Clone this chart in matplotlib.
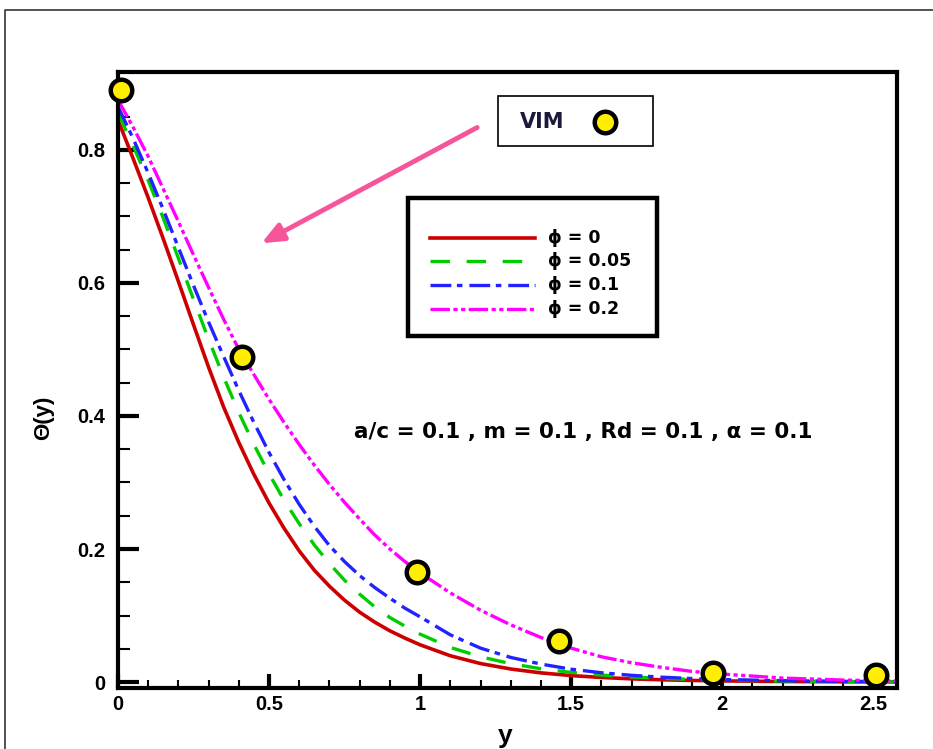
import numpy as np
import matplotlib
matplotlib.use('Agg')
import matplotlib.pyplot as plt
from matplotlib.lines import Line2D
from matplotlib.patches import Rectangle
from matplotlib.ticker import MultipleLocator

plt.rcParams['font.family'] = ['Liberation Sans', 'DejaVu Sans']
plt.rcParams['font.weight'] = 'bold'
plt.rcParams['lines.scale_dashes'] = False

# temperature profiles theta(y) for each volume fraction phi
y = [0.0, 0.05, 0.1, 0.15, 0.2, 0.25, 0.3, 0.35, 0.4, 0.45, 0.5, 0.55, 0.6, 0.65,
     0.7, 0.75, 0.8, 0.85, 0.9, 0.95, 1.0, 1.1, 1.2, 1.3, 1.4, 1.5, 1.6, 1.7,
     1.8, 1.9, 2.0, 2.2, 2.4, 2.58]
theta_phi0 = [0.845, 0.787, 0.728, 0.666, 0.602, 0.537, 0.473, 0.413, 0.360, 0.312,
              0.269, 0.231, 0.197, 0.168, 0.144, 0.123, 0.105, 0.090, 0.077, 0.066,
              0.056, 0.0395, 0.0278, 0.0196, 0.0138, 0.0097, 0.0069, 0.0048,
              0.0034, 0.0024, 0.0017, 0.0008, 0.0004, 0.0002]
theta_phi005 = [0.855, 0.806, 0.754, 0.697, 0.637, 0.575, 0.515, 0.458, 0.405, 0.357,
                0.313, 0.273, 0.238, 0.206, 0.178, 0.153, 0.132, 0.113, 0.097, 0.084,
                0.072, 0.052, 0.038, 0.0276, 0.020, 0.0145, 0.0105, 0.0077,
                0.0056, 0.004, 0.003, 0.0015, 0.0008, 0.0004]
theta_phi01 = [0.865, 0.817, 0.765, 0.710, 0.653, 0.596, 0.541, 0.489, 0.438, 0.390,
               0.345, 0.304, 0.267, 0.234, 0.205, 0.181, 0.160, 0.142, 0.126, 0.111,
               0.098, 0.071, 0.051, 0.037, 0.027, 0.0193, 0.014, 0.0101,
               0.0073, 0.0053, 0.0038, 0.002, 0.001, 0.0006]
theta_phi02 = [0.875, 0.834, 0.790, 0.741, 0.692, 0.642, 0.593, 0.545, 0.500, 0.462,
               0.425, 0.390, 0.357, 0.326, 0.297, 0.270, 0.245, 0.221, 0.200, 0.181,
               0.164, 0.134, 0.108, 0.086, 0.067, 0.051, 0.038, 0.029,
               0.022, 0.016, 0.012, 0.006, 0.003, 0.0015]

# VIM solution points
y_vim = [0.01, 0.41, 0.99, 1.46, 1.97, 2.51]
theta_vim = [0.89, 0.489, 0.165, 0.062, 0.0135, 0.0105]

labels = ['ϕ = 0', 'ϕ = 0.05', 'ϕ = 0.1', 'ϕ = 0.2']
colors = ['#cc0000', '#00cc00', '#2222ff', '#ff00ff']
styles = ['-', (0, (14, 12)), (0, (15, 4, 4, 5)), (0, (14, 2.5, 3, 2.5, 3, 2.5))]
widths = [2.6, 2.4, 2.4, 2.4]
curves = [theta_phi0, theta_phi005, theta_phi01, theta_phi02]

fig = plt.figure(figsize=(9.33, 7.49), dpi=100)
ax = fig.add_axes([0.1265, 0.0814, 0.835, 0.8224])

for th, c, ls, lw in zip(curves, colors, styles, widths):
    ax.plot(y, th, color=c, lw=lw, linestyle=ls)
ax.plot(y_vim, theta_vim, 'o', ms=15.5, mfc='#ffee00', mec='black', mew=3.2,
        clip_on=False, zorder=5)

ax.set_xlim(0, 2.579)
ax.set_ylim(-0.009, 0.917)
ax.xaxis.set_minor_locator(MultipleLocator(0.1))
ax.yaxis.set_minor_locator(MultipleLocator(0.05))
ax.set_xticks([0, 0.5, 1, 1.5, 2, 2.5])
ax.set_xticklabels(['0', '0.5', '1', '1.5', '2', '2.5'])
ax.set_yticks([0, 0.2, 0.4, 0.6, 0.8])
ax.set_yticklabels(['0', '0.2', '0.4', '0.6', '0.8'])

ax.tick_params(axis='both', which='both', direction='in', top=False, right=False,
               labelsize=14.5)
ax.tick_params(axis='y', which='major', length=15, width=3, pad=9)
ax.tick_params(axis='y', which='minor', length=8.5, width=1.5)
ax.tick_params(axis='x', which='major', length=10, width=3, pad=5)
ax.tick_params(axis='x', which='minor', length=6, width=1.5)
for s in ax.spines.values():
    s.set_linewidth(3)

ax.set_xlabel('y', fontsize=19, fontweight='bold')
ax.xaxis.set_label_coords(0.497, -0.058)
ax.set_ylabel('Θ(y)', fontsize=16, fontweight='bold')
ax.yaxis.set_label_coords(-0.082, 0.438)

ax.text(0.597, 0.4156, 'a/c = 0.1 , m = 0.1 , Rd = 0.1 , α = 0.1', fontsize=15.5,
        family='DejaVu Sans', fontweight='bold', ha='center', va='center',
        transform=ax.transAxes)

# legend box for the phi curves
ax.add_patch(Rectangle((0.3723, 0.5714), 0.3196, 0.2241, transform=ax.transAxes,
                       facecolor='white', edgecolor='black', lw=3.2, zorder=6))
rows = [0.7305, 0.6932, 0.6542, 0.6153]
for r, lab, c, ls, lw in zip(rows, labels, colors, styles, widths):
    ax.plot([0.4005, 0.5353], [r, r], color=c, lw=lw, linestyle=ls,
            transform=ax.transAxes, zorder=7)
    ax.text(0.552, r, lab, fontsize=12.5, family='DejaVu Sans', fontweight='bold',
            va='center', ha='left', transform=ax.transAxes, zorder=7)

# VIM marker key box
ax.add_patch(Rectangle((0.488, 0.880), 0.199, 0.081, transform=ax.transAxes,
                       fill=False, edgecolor='black', lw=1.2))
ax.text(0.516, 0.919, 'VIM', fontsize=15, family='DejaVu Sans', fontweight='bold',
        color='#1a1a3a', va='center', ha='left', transform=ax.transAxes)
ax.plot([0.625], [0.919], 'o', ms=15.5, mfc='#ffee00', mec='black', mew=3.2,
        transform=ax.transAxes, clip_on=False)

ax.annotate('', xy=(0.184, 0.722), xytext=(0.461, 0.910), xycoords='axes fraction',
            arrowprops=dict(arrowstyle='-|>,head_length=1.3,head_width=0.55',
                            color='#f7559a', lw=3.5, shrinkA=0, shrinkB=0))

# outer frame
fig.add_artist(Line2D([0.0054, 0.0054, 1.0], [0.0, 0.9866, 0.9866],
                      transform=fig.transFigure, color='#333333', lw=1.2))

fig.savefig('out.png', dpi=100)
